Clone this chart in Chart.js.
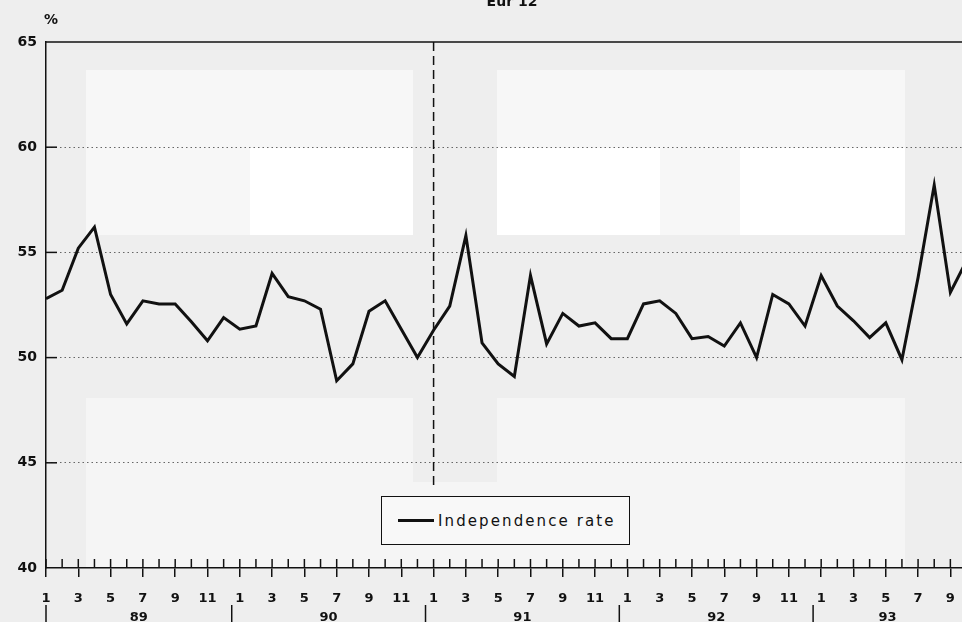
<!DOCTYPE html>
<html>
<head>
<meta charset="utf-8">
<script src="https://cdn.jsdelivr.net/npm/chart.js@4/dist/chart.umd.min.js"></script>
<style>
    html, body { margin: 0; padding: 0; background: #eeeeee; }
    #wrap { position: relative; width: 962px; height: 622px; overflow: hidden; }
    #legendBox {
        position: absolute; left: 381px; top: 496px; width: 247px; height: 47px;
        border: 1.5px solid #111; background: #f8f8f8;
        font-family: 'DejaVu Sans', sans-serif; font-size: 15px; letter-spacing: 2.1px; color: #111;
        display: flex; align-items: center;
    }
    #legendBox .sample { width: 36px; height: 3px; background: #111; margin-left: 16px; margin-right: 4px; }
</style>
</head>
<body>
<div id="wrap">
    <canvas id="rateChart" width="962" height="622"></canvas>
    <div id="legendBox"><span class="sample"></span><span id="legendText"></span></div>
</div>
<script>
// data: monthly values, Jan 89 .. Oct 93
const years = ['89', '90', '91', '92', '93'];
const monthTicks = ['1', '3', '5', '7', '9', '11'];
const yTicks = [40, 45, 50, 55, 60, 65];
const seriesName = 'Independence rate';
const chartTitle = 'Eur 12';
const independenceRate = [
    52.8, 53.2, 55.2, 56.2, 53.0, 51.6, 52.7, 52.55, 52.55, 51.7, 50.8, 51.9,
    51.35, 51.5, 54.0, 52.9, 52.7, 52.3, 48.9, 49.7, 52.2, 52.7, 51.35, 50.0,
    51.3, 52.45, 55.8, 50.7, 49.7, 49.1, 53.9, 50.65, 52.1, 51.5, 51.65, 50.9,
    50.9, 52.55, 52.7, 52.1, 50.9, 51.0, 50.55, 51.65, 50.0, 53.0, 52.55, 51.5,
    53.9, 52.45, 51.75, 50.95, 51.65, 49.9, 53.8, 58.2, 53.1, 54.6
];

document.getElementById('legendText').textContent = seriesName;

const fontBold = { family: 'DejaVu Sans', weight: 'bold', size: 13 };

// bits of the old printout: pale panels, frame, year row, dashed divider
const hiasan = {
    id: 'hiasan',
    beforeDraw(chart) {
        const c = chart.ctx;
        c.save();
        c.fillStyle = '#eeeeee';
        c.fillRect(0, 0, chart.width, chart.height);
        const kotak = [
            [86, 70, 327, 165, '#f7f7f7'], [250, 148, 163, 87, '#ffffff'],
            [497, 70, 408, 165, '#f7f7f7'], [497, 148, 163, 87, '#ffffff'], [740, 148, 165, 87, '#ffffff'],
            [86, 398, 327, 170, '#f5f5f5'], [497, 398, 408, 170, '#f5f5f5'], [332, 482, 328, 86, '#f5f5f5']
        ];
        kotak.forEach(k => { c.fillStyle = k[4]; c.fillRect(k[0], k[1], k[2], k[3]); });
        c.restore();
    },
    afterDraw(chart) {
        const c = chart.ctx;
        const area = chart.chartArea;
        const sx = chart.scales.x;
        const sy = chart.scales.y;
        c.save();
        c.strokeStyle = '#111';
        c.lineWidth = 1.5;

        // frame top
        c.beginPath();
        c.moveTo(area.left, area.top);
        c.lineTo(area.right, area.top);
        c.stroke();

        // small inner ticks on both axes
        for (let i = 0; i <= Math.floor(sx.max); i++) {
            const px = sx.getPixelForValue(i);
            c.beginPath();
            c.moveTo(px, area.bottom - 9);
            c.lineTo(px, area.bottom);
            c.stroke();
        }
        yTicks.slice(1, -1).forEach(v => {
            const py = sy.getPixelForValue(v);
            c.beginPath();
            c.moveTo(area.left, py);
            c.lineTo(area.left + 11, py);
            c.stroke();
        });

        // dashed divider at Jan 91
        const xd = sx.getPixelForValue(24);
        c.setLineDash([9, 5]);
        c.beginPath();
        c.moveTo(xd, area.top);
        c.lineTo(xd, 488);
        c.stroke();
        c.setLineDash([]);

        // year row
        c.fillStyle = '#111';
        c.font = 'bold 13px "DejaVu Sans"';
        c.textAlign = 'center';
        c.textBaseline = 'top';
        years.forEach((y, k) => {
            const awal = k === 0 ? sx.min : k * 12 - 0.5;
            const akhir = Math.min(k * 12 + 11.5, sx.max);
            const p0 = sx.getPixelForValue(awal);
            const p1 = sx.getPixelForValue(akhir);
            c.fillText(y, (p0 + p1) / 2, 611);
            c.beginPath();
            c.moveTo(p0, 605);
            c.lineTo(p0, 622);
            c.stroke();
        });

        // unit and title
        c.font = 'bold 14px "DejaVu Sans"';
        c.textAlign = 'left';
        c.textBaseline = 'middle';
        c.fillText('%', 44, 20);
        c.textAlign = 'center';
        c.textBaseline = 'alphabetic';
        c.fillText(chartTitle, 512, 6);
        c.restore();
    }
};

const ctx = document.getElementById('rateChart').getContext('2d');
new Chart(ctx, {
    type: 'line',
    data: {
        datasets: [{
            label: seriesName,
            data: independenceRate.map((v, i) => ({ x: i, y: v })),
            borderColor: '#111111',
            borderWidth: 3,
            pointRadius: 0,
            tension: 0,
            fill: false
        }]
    },
    options: {
        responsive: false,
        animation: false,
        layout: { padding: { top: 42, left: 0, right: 0, bottom: 0 } },
        plugins: {
            legend: { display: false },
            tooltip: { enabled: false }
        },
        scales: {
            x: {
                type: 'linear',
                min: 0,
                max: 56.72,
                afterFit(s) { s.height = 54; s.paddingLeft = 0; s.paddingRight = 0; },
                grid: {
                    drawOnChartArea: false,
                    tickLength: 9,
                    lineWidth: 1.5,
                    color: (c) => (c.tick && Number.isInteger(c.tick.value) && c.tick.value % 2 === 0) ? '#111' : 'transparent'
                },
                border: { color: '#111', width: 1.5 },
                ticks: {
                    stepSize: 1,
                    includeBounds: false,
                    autoSkip: false,
                    maxRotation: 0,
                    padding: 14,
                    color: '#111',
                    font: fontBold,
                    callback: (v) => (Number.isInteger(v) && v % 2 === 0) ? monthTicks[(v % 12) / 2] : ''
                }
            },
            y: {
                min: yTicks[0],
                max: yTicks[yTicks.length - 1],
                afterFit(s) { s.width = 46; s.paddingTop = 0; s.paddingBottom = 0; },
                grid: {
                    drawTicks: false,
                    lineWidth: 1,
                    color: (c) => (c.tick && (c.tick.value === 40 || c.tick.value === 65)) ? 'transparent' : '#666'
                },
                border: { color: '#111', width: 1.5, dash: [1.5, 3] },
                ticks: {
                    stepSize: 5,
                    padding: 9,
                    color: '#111',
                    font: { family: 'DejaVu Sans', weight: 'bold', size: 14 }
                }
            }
        }
    },
    plugins: [hiasan]
});
</script>
</body>
</html>
